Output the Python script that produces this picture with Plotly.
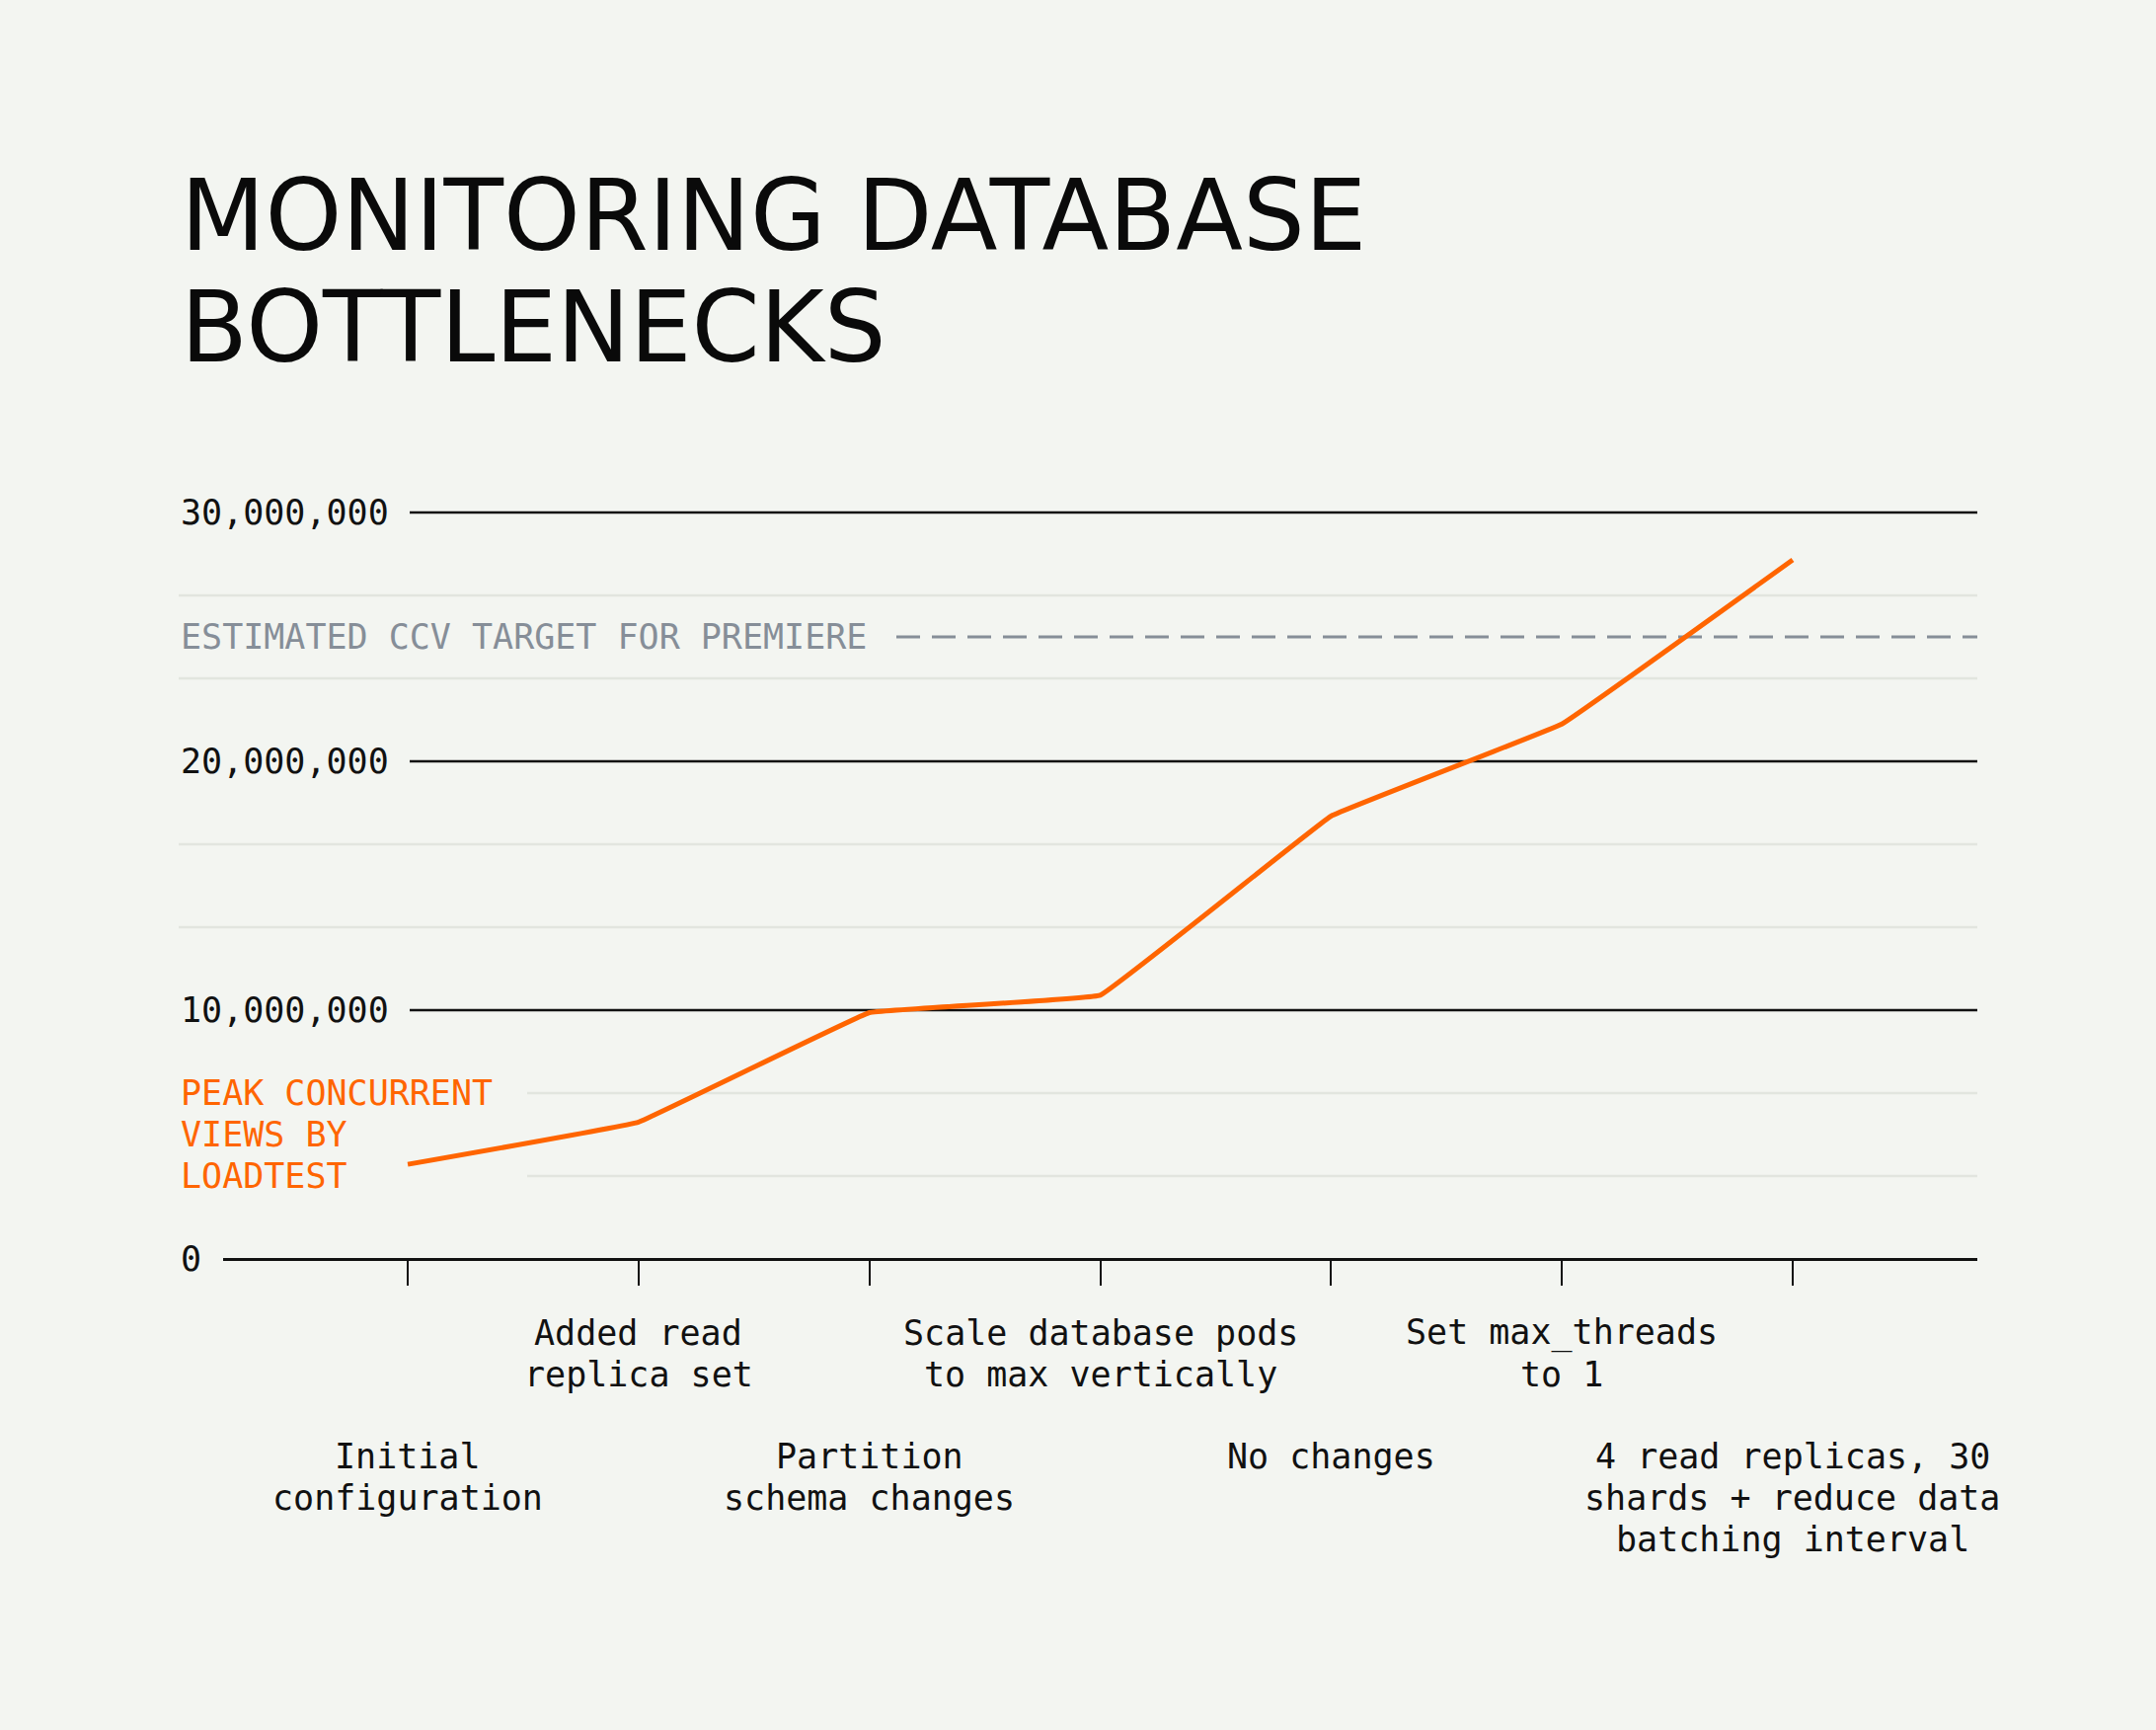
import plotly.graph_objects as go

# ---- data ----
steps = ["Initial configuration", "Added read replica set", "Partition schema changes",
         "Scale database pods to max vertically", "No changes", "Set max_threads to 1",
         "4 read replicas, 30 shards + reduce data batching interval"]
step_lines = [
    ["Initial", "configuration"],
    ["Added read", "replica set"],
    ["Partition", "schema changes"],
    ["Scale database pods", "to max vertically"],
    ["No changes"],
    ["Set max_threads", "to 1"],
    ["4 read replicas, 30", "shards + reduce data", "batching interval"],
]
peak_ccv = [3.8e6, 5.5e6, 9.9e6, 10.6e6, 17.8e6, 21.5e6, 28.1e6]
major_ticks = [0, 10e6, 20e6, 30e6]
minor_grid_low = [3.333e6, 6.667e6]
minor_grid_high = [13.333e6, 16.667e6, 23.333e6, 26.667e6]
target_ccv = 25e6
target_label = "ESTIMATED CCV TARGET FOR PREMIERE"
series_label = ["PEAK CONCURRENT", "VIEWS BY", "LOADTEST"]
title_lines = ["MONITORING DATABASE", "BOTTLENECKS"]

# ---- look ----
BG = "#f3f5f1"
ORANGE = "#ff6500"
GREY = "#868e98"
MINOR = "#e2e5df"
MONO = "DejaVu Sans Mono"

W, H = 2184, 1752
LEFT, RIGHT = 226, 181
Y0, Y1 = -0.6e6, 30.6e6
PX_PER = 25.2 / 1e6
TOP = 504
plot_h = (Y1 - Y0) * PX_PER
BOTTOM = H - TOP - plot_h
plot_w = W - LEFT - RIGHT


def xp(px):
    return (px - LEFT) / plot_w


axis_pos = (0 - Y0) / (Y1 - Y0)

fig = go.Figure()
fig.add_trace(go.Scatter(
    x=list(range(len(steps))), y=peak_ccv, mode="lines",
    line=dict(color=ORANGE, width=5, shape="spline", smoothing=0.15),
    hovertext=steps, showlegend=False,
))

shapes = []
for v in major_ticks[1:]:
    shapes.append(dict(type="line", xref="paper", yref="y", x0=xp(415), x1=1, y0=v, y1=v,
                       line=dict(color="#111111", width=2.5), layer="below"))
for v in minor_grid_low:
    shapes.append(dict(type="line", xref="paper", yref="y", x0=xp(534), x1=1, y0=v, y1=v,
                       line=dict(color=MINOR, width=2.5), layer="below"))
for v in minor_grid_high:
    shapes.append(dict(type="line", xref="paper", yref="y", x0=xp(181), x1=1, y0=v, y1=v,
                       line=dict(color=MINOR, width=2.5), layer="below"))
shapes.append(dict(type="line", xref="paper", yref="y", x0=xp(908), x1=1, y0=target_ccv, y1=target_ccv,
                   line=dict(color=GREY, width=3, dash="24px,12px"), layer="below"))

ann = []
# title
for i, t in enumerate(title_lines):
    ann.append(dict(text=t, xref="paper", yref="paper", x=xp(181), y=1, xanchor="left", yanchor="middle",
                    yshift=[286, 173][i], showarrow=False,
                    font=dict(family="DejaVu Sans", size=99, color="#0a0a0a")))
# y labels
for v in major_ticks:
    ann.append(dict(text=f"{int(v):,}", xref="paper", yref="y", x=xp(181), y=v, xanchor="left",
                    yanchor="middle", showarrow=False, font=dict(family=MONO, size=35, color="#111111")))
ann.append(dict(text=target_label, xref="paper", yref="y", x=xp(181), y=target_ccv, xanchor="left",
                yanchor="middle", showarrow=False, font=dict(family=MONO, size=35, color=GREY)))
for k, t in enumerate(series_label):
    ann.append(dict(text=t, xref="paper", yref="y", x=xp(181), y=5e6, xanchor="left", yanchor="middle",
                    yshift=42 * (1 - k), showarrow=False, font=dict(family=MONO, size=35, color=ORANGE)))
# category labels, alternating rows
for i, lines in enumerate(step_lines):
    base = 200 if i % 2 == 0 else 75
    for k, t in enumerate(lines):
        ann.append(dict(text=t, xref="x", yref="paper", x=i, y=axis_pos, xanchor="center",
                        yanchor="middle", yshift=-(base + 42 * k), showarrow=False,
                        font=dict(family=MONO, size=35, color="#111111")))

fig.update_layout(
    width=W, height=H,
    margin=dict(l=LEFT, r=RIGHT, t=TOP, b=BOTTOM, pad=0),
    paper_bgcolor=BG, plot_bgcolor=BG,
    shapes=shapes, annotations=ann,
    xaxis=dict(range=[-0.8, 6.8], tickvals=list(range(len(steps))), showticklabels=False,
               ticks="outside", ticklen=25, tickwidth=2, tickcolor="#111111",
               showline=True, linecolor="#111111", linewidth=2.5, showgrid=False, zeroline=False,
               anchor="free", position=axis_pos),
    yaxis=dict(range=[Y0, Y1], showgrid=False, showticklabels=False, zeroline=False),
)

# drop the default page margin so the figure sits at the window's corner
fig.write_html("out.html", config={"displayModeBar": False},
               post_script="document.body.style.margin='0';")
